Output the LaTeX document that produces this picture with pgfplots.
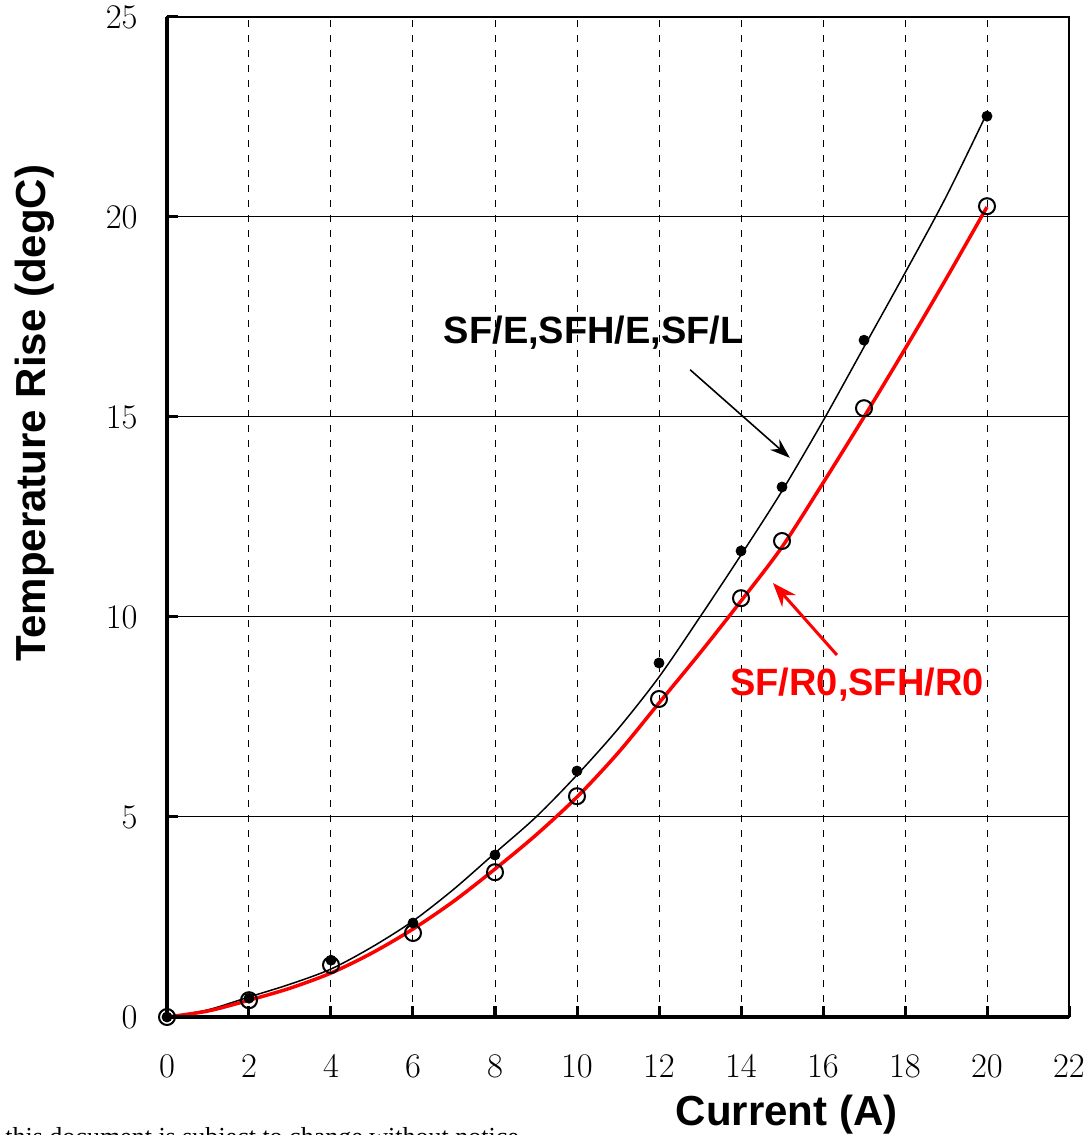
\documentclass[border=0pt]{standalone}
\usepackage{pgfplots}
\pgfplotsset{compat=1.18}
\usetikzlibrary{arrows.meta}
\usepackage{fontspec}
\newfontfamily\arialf{Liberation Sans}
\newfontfamily\timesf{Liberation Serif}
\begin{document}
\begin{tikzpicture}
\begin{axis}[
 at={(0,0)}, anchor=south west,
 scale only axis, width=451pt, height=500pt,
 xmin=0, xmax=22, ymin=0, ymax=25,
 xtick={0,2,...,22}, ytick={0,5,...,25},
 xtick pos=bottom, ytick pos=left,
 tick align=inside,
 major tick length=5.5pt,
 every tick/.style={black, line width=1.5pt},
 xmajorgrids, ymajorgrids,
 x grid style={dash pattern=on 3.5pt off 4pt, black, line width=0.5pt},
 y grid style={solid, black, line width=0.5pt},
 axis line style={line width=1pt},
 tick label style={font=\fontsize{17}{17}\selectfont},
 xticklabel style={inner sep=0pt, yshift=-19pt},
 yticklabel style={inner sep=0pt, xshift=-14.5pt},
 xlabel={Current (A)}, ylabel={Temperature Rise (degC)},
 label style={font=\arialf\bfseries\fontsize{21}{21}\selectfont},
 xlabel style={at={(axis description cs:0.687,-0.098)}, anchor=center},
 ylabel style={at={(axis description cs:-0.1463,0.604)}, anchor=center},
 clip=false,
]
% measured points
\addplot[only marks, mark=*, mark size=2.5pt, black] coordinates {
 (0,0) (2,0.47) (4,1.42) (6,2.35) (8,4.05) (10,6.15) (12,8.85) (14,11.65) (15,13.25) (17,16.92) (20,22.52)};
\addplot[only marks, mark=o, mark size=4pt, black, line width=1pt] coordinates {
 (0,0) (2,0.42) (4,1.3) (6,2.1) (8,3.62) (10,5.52) (12,7.95) (14,10.47) (15,11.9) (17,15.22) (20,20.27)};
% fitted curves
\addplot[black, line width=0.75pt, smooth, no marks] coordinates {
 (0,0) (1,0.18) (2,0.5) (3,0.82) (4,1.2) (5,1.75) (6,2.4) (7,3.2) (8,4.1) (9,5.0) (10,6.05)
 (11,7.2) (12,8.5) (13,10.0) (14,11.55) (15,13.15) (16,14.9) (17,16.75) (18,18.6) (19,20.5) (20,22.6)};
\addplot[red, line width=1.75pt, smooth, no marks] coordinates {
 (0,0) (1,0.15) (2,0.42) (3,0.72) (4,1.1) (5,1.6) (6,2.2) (7,2.9) (8,3.7) (9,4.55) (10,5.5)
 (11,6.6) (12,7.85) (13,9.1) (14,10.4) (15,11.75) (16,13.35) (17,15.0) (18,16.7) (19,18.45) (20,20.25)};
% annotations
\node[font=\arialf\bfseries\fontsize{19}{19}\selectfont] at (axis cs:10.41,17.1) {SF/E,SFH/E,SF/L};
\draw[black, line width=0.8pt, -{Stealth[length=10pt,width=7pt]}] (axis cs:12.76,16.18) -- (axis cs:15.19,13.98);
\node[font=\arialf\bfseries\fontsize{19}{19}\selectfont, text=red] at (axis cs:16.83,8.3) {SF/R0,SFH/R0};
\draw[red, line width=1.5pt, -{Stealth[length=12pt,width=9pt]}] (axis cs:16.34,9.05) -- (axis cs:14.78,10.85);
% heavy left and bottom frame
\draw[black, line width=2pt] (rel axis cs:0,1) -- (rel axis cs:0,0) -- (rel axis cs:1,0);
\end{axis}
\pgfresetboundingbox
\useasboundingbox (-83.5pt,-59pt) rectangle (459pt,508.5pt);
\node[anchor=base west, inner sep=0pt, font=\timesf\fontsize{13}{13}\selectfont] at (-81pt,-64pt) {this document is subject to change without notice.};
\end{tikzpicture}
\end{document}
